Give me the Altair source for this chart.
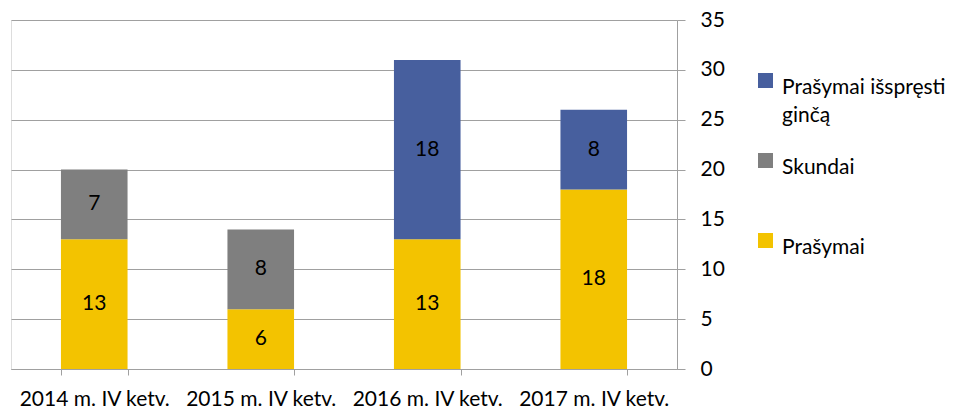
import altair as alt
import pandas as pd

categories = ["2014 m. IV ketv.", "2015 m. IV ketv.", "2016 m. IV ketv.", "2017 m. IV ketv."]
series = ["Prašymai išspręsti ginčą", "Skundai", "Prašymai"]
colors = ["#475F9E", "#7F7F7F", "#F3C300"]
prasymai = [13, 6, 13, 18]
skundai = [7, 8, 0, 0]
issprestiGinca = [0, 0, 18, 8]

rows = []
for i, c in enumerate(categories):
    for name, vals, order in [("Prašymai", prasymai, 0), ("Skundai", skundai, 1),
                              ("Prašymai išspręsti ginčą", issprestiGinca, 2)]:
        if vals[i] > 0:
            rows.append({"cat": c, "series": name, "value": vals[i], "ord": order})
df = pd.DataFrame(rows)

FONT = "Lato"
FS = 21

base = alt.Chart(df).transform_stack(
    stack="value", groupby=["cat"], as_=["v0", "v1"], sort=[alt.SortField("ord")]
).transform_calculate(mid="(datum.v0 + datum.v1) / 2")

x = alt.X("cat:N", sort=categories, title=None,
          scale=alt.Scale(paddingInner=0.6, paddingOuter=0.3),
          axis=alt.Axis(labelAngle=0, tickBand="extent", domainColor="#A0A0A0",
                        tickColor="#A0A0A0", tickSize=6, labelFontSize=FS,
                        labelPadding=13, labelColor="#000000", labelFont=FONT))

bars = base.mark_bar().encode(
    x=x,
    y=alt.Y("v1:Q", title=None, scale=alt.Scale(domain=[0, 35]),
            axis=alt.Axis(orient="right", values=[0, 5, 10, 15, 20, 25, 30, 35],
                          grid=True, gridColor="#A0A0A0", domainColor="#A0A0A0",
                          tickColor="#A0A0A0", tickSize=8, labelPadding=15,
                          labelFontSize=FS, labelColor="#000000", labelFont=FONT)),
    y2="v0:Q",
    color=alt.Color("series:N",
                    scale=alt.Scale(domain=series, range=colors),
                    legend=alt.Legend(orient="none", legendX=744, legendY=57, title=None,
                                      symbolType="M-1,-1.933H1V0.067H-1Z", symbolSize=225,
                                      symbolStrokeWidth=0, labelFontSize=FS,
                                      labelFont=FONT, labelColor="#000000",
                                      rowPadding=27, labelOffset=6, labelLimit=300,
                                      labelExpr="datum.label == 'Prašymai išspręsti ginčą' ? ['Prašymai išspręsti', 'ginčą'] : [datum.label, '']")),
)

texts = base.mark_text(fontSize=FS, font=FONT, color="#000000").encode(
    x=alt.X("cat:N", sort=categories),
    y=alt.Y("mid:Q"),
    text=alt.Text("value:Q"),
)

chart = alt.layer(bars, texts).properties(
    width=666, height=349,
    padding={"left": 3, "top": 12, "right": 270, "bottom": 60},
    autosize=alt.AutoSizeParams(type="none"),
).configure_view(stroke=None).configure(
    style={"guide-label": {"lineHeight": 28}}
)

chart.save("out.html", embed_options={"renderer": "svg", "actions": False})
